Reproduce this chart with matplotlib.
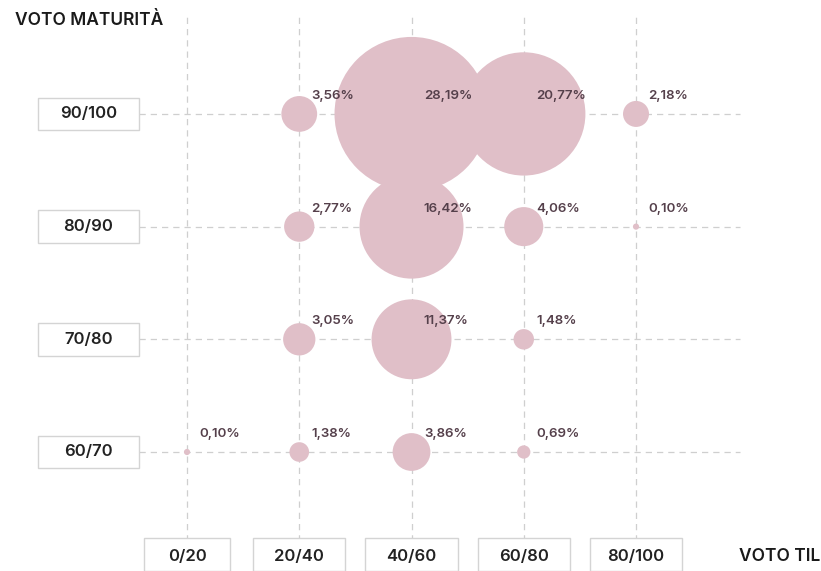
import matplotlib
matplotlib.use("Agg")
import matplotlib.pyplot as plt
from matplotlib.patches import Rectangle
import numpy as np

plt.rcParams['font.family'] = ['Inter', 'DejaVu Sans']

# ---- data ----
voto_til = ["0/20", "20/40", "40/60", "60/80", "80/100"]
voto_maturita = ["60/70", "70/80", "80/90", "90/100"]
row_60_70 = [0.10, 1.38, 3.86, 0.69, None]
row_70_80 = [None, 3.05, 11.37, 1.48, None]
row_80_90 = [None, 2.77, 16.42, 4.06, 0.10]
row_90_100 = [None, 3.56, 28.19, 20.77, 2.18]
rows = [row_60_70, row_70_80, row_80_90, row_90_100]

# ---- style ----
bubble_color = "#e0bfc8"
text_color = "#55404b"
grid_color = "#cfcfcf"
box_edge = "#d4d4d4"

W, H, DPI = 821, 571, 100
fig = plt.figure(figsize=(W / DPI, H / DPI), dpi=DPI)
ax = fig.add_axes([0, 0, 1, 1])
ax.set_xlim(-1.666, 5.648)
ax.set_ylim(-1.056, 4.011)
ax.axis("off")

xs = np.arange(len(voto_til))
ys = np.arange(len(voto_maturita))

# grid lines
ax.vlines(xs, -0.79, 3.90, colors=grid_color, linestyles=(0, (5, 4)), linewidth=0.9, zorder=1)
ax.hlines(ys, -0.43, 4.93, colors=grid_color, linestyles=(0, (5, 4)), linewidth=0.9, zorder=1)

# bubbles
vmax = max(v for row in rows for v in row if v is not None)
px_to_pt = 72 / DPI
for j, row in enumerate(rows):
    for i, v in enumerate(row):
        if v is None:
            continue
        r_px = 2 + 75 * (v / vmax) ** 0.75
        s = (2 * r_px * px_to_pt) ** 2
        ax.scatter([xs[i]], [ys[j]], s=s, color=bubble_color, edgecolors="none", zorder=3)
        ax.text(xs[i] + 0.11, ys[j] + 0.16, f"{v:.2f}".replace(".", ",") + "%",
                fontsize=9.6, color=text_color, fontweight="semibold",
                ha="left", va="center", zorder=5)

# y category boxes
for j, lab in enumerate(voto_maturita):
    cx = -0.88
    ax.add_patch(Rectangle((cx - 0.45, ys[j] - 0.145), 0.90, 0.29,
                           facecolor="white", edgecolor=box_edge, linewidth=1, zorder=4))
    ax.text(cx, ys[j], lab, fontsize=12, fontweight="semibold", color="#222222",
            ha="center", va="center", zorder=5)

# x category boxes
for i, lab in enumerate(voto_til):
    cy = -0.93
    w = 0.76 if len(lab) <= 4 else 0.82
    ax.add_patch(Rectangle((xs[i] - w / 2, cy - 0.13), w, 0.30,
                           facecolor="white", edgecolor=box_edge, linewidth=1, zorder=4))
    ax.text(xs[i], cy, lab, fontsize=12, fontweight="semibold", color="#222222",
            ha="center", va="center", zorder=5)

# axis titles
ax.text(-1.53, 3.83, "VOTO MATURITÀ", fontsize=12.5, fontweight="semibold",
        color="#1a1a1a", ha="left", va="center")
ax.text(5.64, -0.93, "VOTO TIL", fontsize=12.5, fontweight="semibold",
        color="#1a1a1a", ha="right", va="center")

fig.savefig("out.png", dpi=DPI)
